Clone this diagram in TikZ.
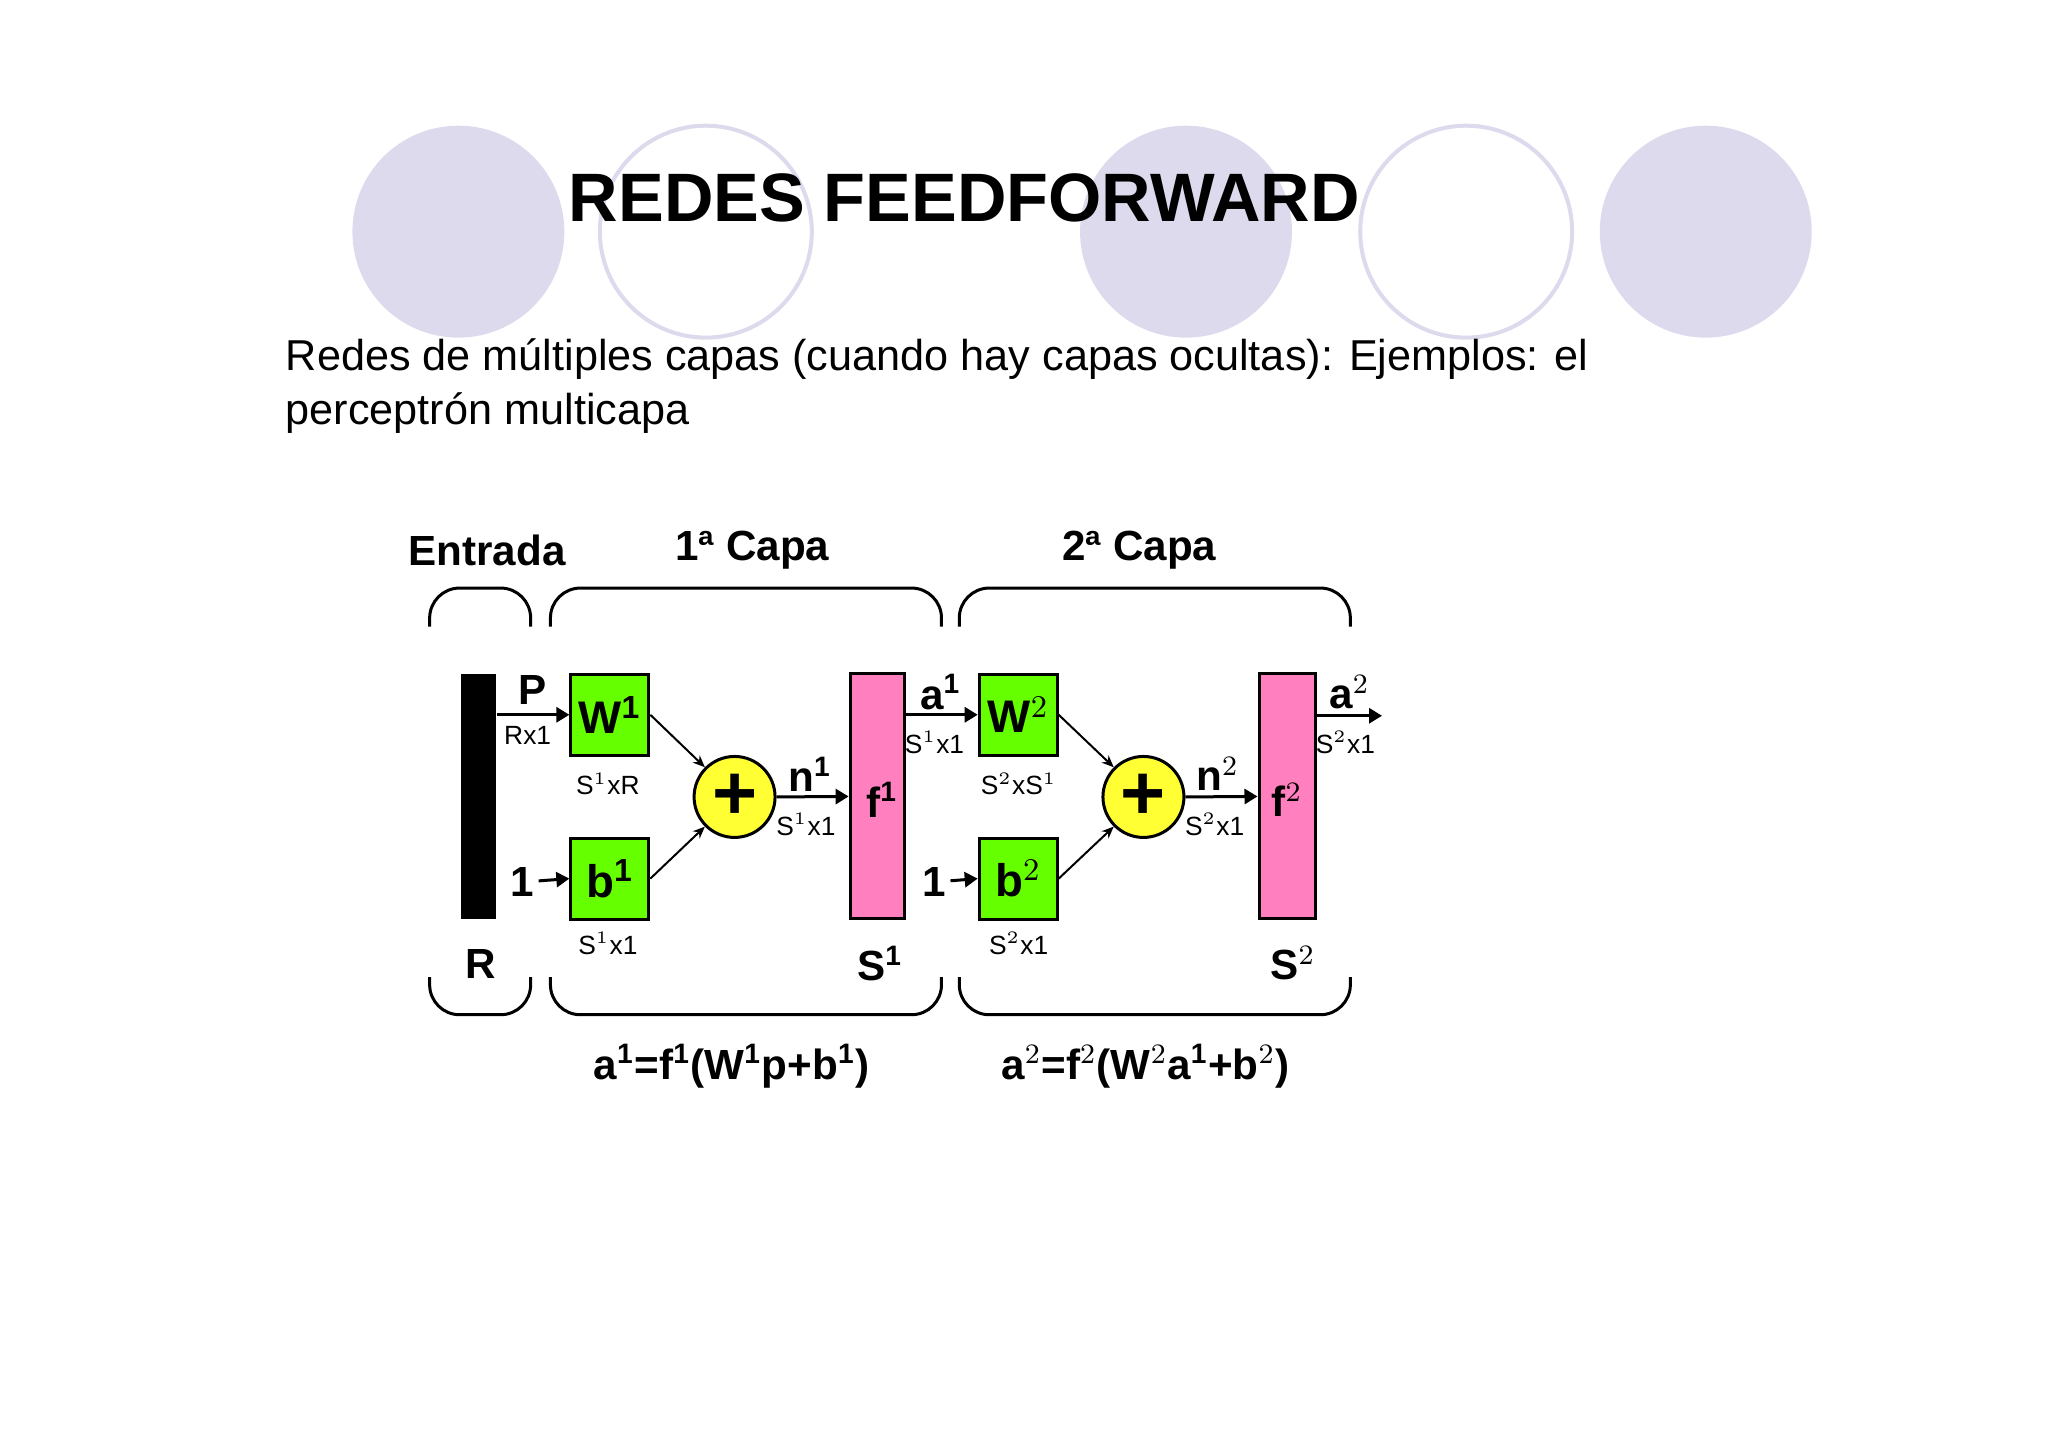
\documentclass[tikz,border=0pt]{standalone}
\usepackage{fontspec}
\setmainfont{Liberation Sans}
\usetikzlibrary{arrows.meta}
\definecolor{lav}{HTML}{DCDAEC}
\definecolor{grn}{HTML}{66FF00}
\definecolor{pnk}{HTML}{FF7FBF}
\definecolor{ylw}{HTML}{FFFF33}
\tikzset{
  lw/.style={line width=0.03cm},
  box/.style={draw,lw,fill=grn,minimum width=0.78cm,minimum height=0.81cm,inner sep=0pt,font=\bfseries\fontsize{13}{13}\selectfont},
  fbox/.style={draw,lw,fill=pnk,minimum height=2.45cm,inner sep=0pt,font=\bfseries\fontsize{13}{13}\selectfont},
  sumc/.style={draw,lw,fill=ylw,circle,minimum size=0.81cm,inner sep=0pt,font=\bfseries\fontsize{22}{22}\selectfont},
  big/.style={font=\bfseries\fontsize{12}{12}\selectfont},
  sm/.style={font=\fontsize{7.5}{7.5}\selectfont,inner sep=0pt},
  arr/.style={lw,-{Triangle[length=0.13cm,width=0.15cm]}},
  darr/.style={line width=0.02cm,-{Stealth[length=0.12cm,width=0.1cm]}},
  brk/.style={lw,rounded corners=0.3cm},
  lavc/.style={circle,minimum size=2.12cm,inner sep=0pt},
}
\begin{document}
\begin{tikzpicture}[x=0.0099cm,y=-0.0099cm]
\useasboundingbox (0,0) rectangle (2068.7,1461.6);
% decorative circles
\node[lavc,fill=lav] (c1) at (463,234) {};
\node[lavc,draw=lav,line width=0.04cm,fill=white] (c2) at (713,234) {};
\node[lavc,fill=lav] (c3) at (1198,234) {};
\node[lavc,draw=lav,line width=0.04cm,fill=white] (c4) at (1481,234) {};
\node[lavc,fill=lav] (c5) at (1723,234) {};
\node[font=\bfseries\fontsize{19.5}{19.5}\selectfont] (title) at (974,200) {REDES FEEDFORWARD};
\node[anchor=west,align=left,font=\fontsize{12.3}{15.3}\selectfont,inner sep=0pt] (body) at (288,390)
  {Redes de múltiples capas (cuando hay capas ocultas): Ejemplos: el\\perceptrón multicapa};
% diagram
\node[fill=black,minimum width=0.35cm,minimum height=2.45cm,inner sep=0pt] (bar) at (483.5,804.5) {};
\node[box] (W1) at (616,722) {W$^{\mathbf 1}$};
\node[box] (b1) at (616,887.5) {b$^{\mathbf 1}$};
\node[sumc] (s1) at (742,805) {+};
\node[fbox,minimum width=0.54cm] (f1) at (886,804.5) {};
\node[big] at (891,808) {f$^{\mathbf 1}$};
\node[box] (W2) at (1028.5,722) {W$^2$};
\node[box] (b2) at (1028.5,887.5) {b$^2$};
\node[sumc] (s2) at (1155,805) {+};
\node[fbox,minimum width=0.57cm] (f2) at (1300.5,804.5) {};
\node[big] at (1300,808) {f$^2$};
\node[big,inner sep=1pt] (one1) at (528,891) {1};
\node[big,inner sep=1pt] (one2) at (944,891) {1};
\coordinate (out) at (1396,723);
\draw[arr] (bar.east |- W1.west) -- (W1.west);
\draw[arr] (one1) -- (b1.west);
\draw[darr] (W1.east) -- (s1.135);
\draw[darr] (b1.east) -- (s1.225);
\draw[arr] (s1.east) -- (f1.west);
\draw[arr] (f1.east |- W2.west) -- (W2.west);
\draw[arr] (one2) -- (b2.west);
\draw[darr] (W2.east) -- (s2.135);
\draw[darr] (b2.east) -- (s2.225);
\draw[arr] (s2.east) -- (f2.west);
\draw[arr] (f2.east |- out) -- (out);
% labels
\node[big] (lP) at (538,697) {P};
\node[sm] (lR) at (533,743) {Rx1};
\node[sm] (l1) at (614,792) {S$^1$xR};
\node[sm] (l2) at (614,953) {S$^1$x1};
\node[big] (ln1) at (818,782) {n$^{\mathbf 1}$};
\node[sm] (l3) at (814,833) {S$^1$x1};
\node[big] (la1) at (950,699) {a$^{\mathbf 1}$};
\node[sm] (l4) at (944,750) {S$^1$x1};
\node[sm] (l5) at (1029,792) {S$^2$xS$^1$};
\node[sm] (l6) at (1029,953) {S$^2$x1};
\node[big] (ln2) at (1230,782) {n$^2$};
\node[sm] (l7) at (1227,833) {S$^2$x1};
\node[big] (la2) at (1363,699) {a$^2$};
\node[sm] (l8) at (1359,750) {S$^2$x1};
\node[big] (lRR) at (486,974) {R};
\node[big] (lS1) at (889,973) {S$^{\mathbf 1}$};
\node[big] (lS2) at (1306,973) {S$^2$};
\node[big] (ent) at (492,556) {Entrada};
\node[big] (cap1) at (760,556) {1ª Capa};
\node[big] (cap2) at (1151,556) {2ª Capa};
\node[big] (eq1) at (739,1077) {a$^{\mathbf 1}$=f$^{\mathbf 1}$(W$^{\mathbf 1}$p+b$^{\mathbf 1}$)};
\node[big] (eq2) at (1157,1077) {a$^2$=f$^2$(W$^2$a$^{\mathbf 1}$+b$^2$)};
% brackets
\draw[brk] (434,633) -- (434,594) -- (536,594) -- (536,633);
\draw[brk] (556,633) -- (556,594) -- (951,594) -- (951,633);
\draw[brk] (969,633) -- (969,594) -- (1364,594) -- (1364,633);
\draw[brk] (434,987) -- (434,1025) -- (536,1025) -- (536,987);
\draw[brk] (556,987) -- (556,1025) -- (951,1025) -- (951,987);
\draw[brk] (969,987) -- (969,1025) -- (1364,1025) -- (1364,987);
\end{tikzpicture}
\end{document}
